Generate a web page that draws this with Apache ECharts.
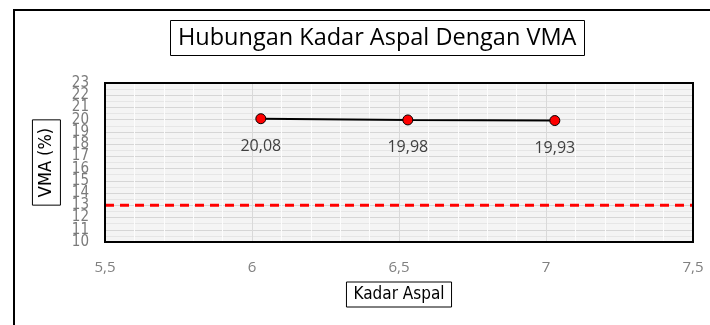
<!DOCTYPE html>
<html>
<head>
<meta charset="utf-8">
<script src="https://cdn.jsdelivr.net/npm/echarts@6/dist/echarts.min.js"></script>
<style>html,body{margin:0;padding:0;background:#fff;}#c{width:710px;height:325px;}</style>
</head>
<body>
<div id="c"></div>
<script>
const kadarAspal = [6.03, 6.53, 7.03];
const vma = [20.08, 19.98, 19.93];
const batasX = [5.5, 7.5];
const batasVMA = [13, 13];
const titleText = 'Hubungan Kadar Aspal Dengan VMA';
const xName = 'Kadar Aspal';
const yName = 'VMA (%)';
const yMin = 10, yMax = 23;

const fmt = v => String(v).replace('.', ',');
const narrow = "'DejaVu Sans Condensed', 'Liberation Sans Narrow', 'Open Sans', sans-serif";
const yLabelStyle = { color: '#7a7a7a', fontSize: 15, fontFamily: narrow, margin: 16, lineHeight: 9 };
const chart = echarts.init(document.getElementById('c'));
chart.setOption({
  animation: false,
  backgroundColor: '#fff',
  title: {
    text: titleText, left: 170, top: 20,
    borderColor: '#000', borderWidth: 1, padding: [6, 8, 6, 8],
    textStyle: { fontFamily: 'Open Sans', fontSize: 23.5, fontWeight: 'normal', color: '#000' }
  },
  graphic: [
    { type: 'polyline', shape: { points: [[14, 325], [14, 10], [710, 10]] }, style: { stroke: '#000', lineWidth: 2, fill: null } },
    { type: 'rect', z: 100, shape: { x: 105, y: 83, width: 588, height: 159 }, style: { stroke: '#000', lineWidth: 2, fill: null } }
  ],
  grid: { left: 105, right: 17, top: 83, bottom: 83, show: true, backgroundColor: '#f4f4f4', borderWidth: 0 },
  xAxis: {
    type: 'value', min: 5.5, max: 7.5, interval: 0.5,
    name: xName, nameLocation: 'middle', nameGap: 40,
    nameTextStyle: { fontFamily: narrow, fontSize: 17, color: '#000', borderColor: '#000', borderWidth: 1, padding: [4, 7, 4, 7] },
    axisLine: { show: false }, axisTick: { show: false },
    axisLabel: { formatter: fmt, color: '#808080', fontSize: 15, fontFamily: 'Open Sans', margin: 18 },
    splitLine: { show: true, lineStyle: { color: '#d9d9d9', width: 1 } },
    minorTick: { show: false, splitNumber: 5 },
    minorSplitLine: { show: true, lineStyle: { color: '#fdfdfd', width: 1 } }
  },
  yAxis: [{
    type: 'value', min: yMin, max: yMax, interval: 1, position: 'left',
    name: yName, nameLocation: 'middle', nameGap: 38, nameRotate: 90,
    nameTextStyle: { fontFamily: narrow, fontSize: 18, color: '#000', borderColor: '#000', borderWidth: 1, padding: [5, 8, 5, 8] },
    axisLine: { show: false }, axisTick: { show: false },
    axisLabel: Object.assign({ showMinLabel: false, showMaxLabel: false }, yLabelStyle),
    splitLine: { show: true, lineStyle: { color: '#d6d6d6', width: 1 } },
    minorTick: { show: false, splitNumber: 2 },
    minorSplitLine: { show: true, lineStyle: { color: '#e6e6e6', width: 1 } }
  }, {
    type: 'value', min: yMin, max: yMax, interval: yMax - yMin, position: 'left', offset: 0,
    axisLine: { show: false }, axisTick: { show: false }, splitLine: { show: false },
    axisLabel: Object.assign({ showMinLabel: true, showMaxLabel: true }, yLabelStyle)
  }],
  series: [
    {
      type: 'line', data: batasX.map((x, i) => [x, batasVMA[i]]),
      symbol: 'none', lineStyle: { color: '#ff0000', width: 3, type: [9, 6] }, z: 3
    },
    {
      type: 'line', data: kadarAspal.map((x, i) => [x, vma[i]]),
      symbol: 'circle', symbolSize: 10,
      lineStyle: { color: '#000', width: 2 },
      itemStyle: { color: '#ff0000', borderColor: '#000', borderWidth: 1 },
      label: { show: true, position: 'bottom', distance: 14, formatter: p => p.value[1].toFixed(2).replace('.', ','), color: '#404040', fontSize: 16, fontFamily: 'Open Sans' },
      z: 4
    }
  ]
});
</script>
</body>
</html>
